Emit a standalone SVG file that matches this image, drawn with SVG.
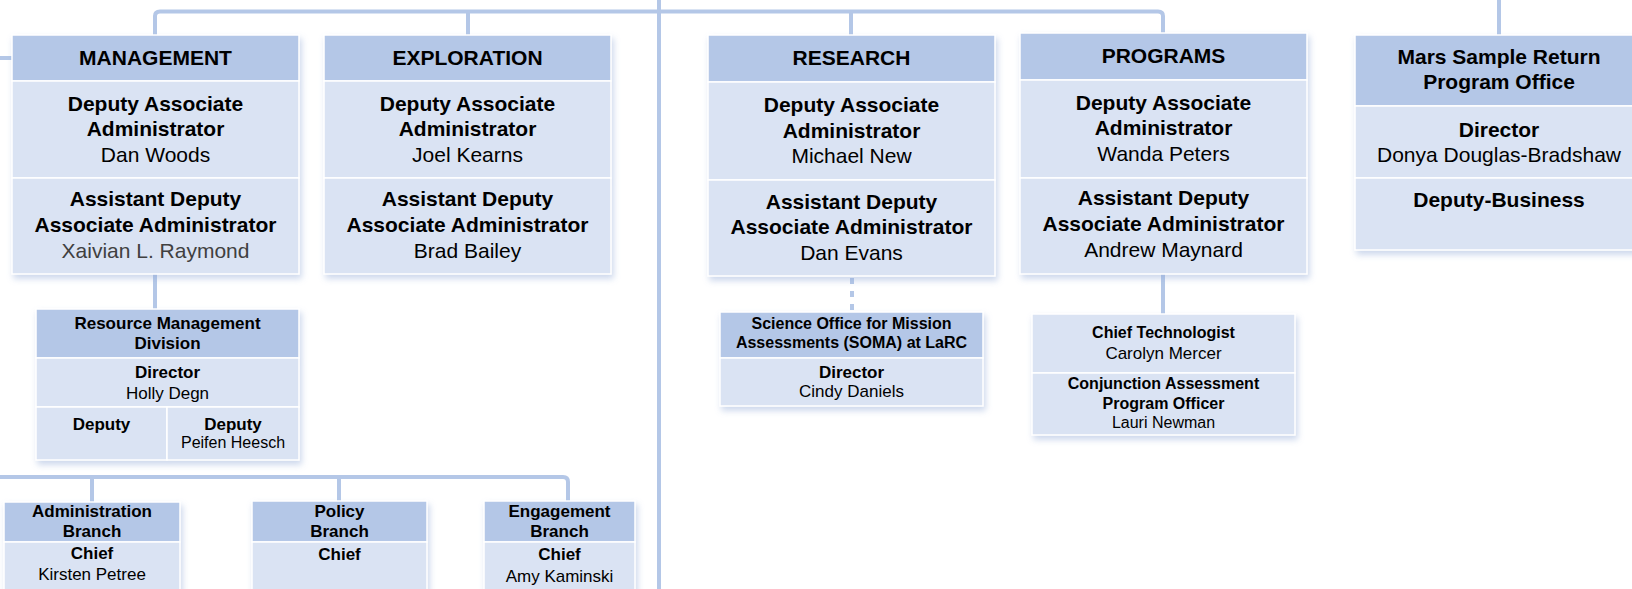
<svg xmlns="http://www.w3.org/2000/svg" width="1632" height="589" viewBox="0 0 1632 589">
<style>
.hd{fill:#b4c7e7;stroke:#ffffff;stroke-width:1.5}
.sc{fill:#dae3f3;stroke:#ffffff;stroke-width:1.5}
.ln{fill:none;stroke:#b4c7e7;stroke-width:4}
.dash{fill:none;stroke:#b4c7e7;stroke-width:4;stroke-dasharray:6 7}
text{font-family:"Liberation Sans",Arial,sans-serif;text-anchor:middle;fill:#000}
.b21{font-size:21px;font-weight:bold}
.r21{font-size:21px}
.b17{font-size:17px;font-weight:bold}
.r17{font-size:17px}
.b16{font-size:16px;font-weight:bold}
.r16{font-size:16px}
.gray{fill:#404040}
</style>
<defs>
<filter id="sh" x="-10%" y="-10%" width="125%" height="130%">
<feDropShadow dx="2" dy="4" stdDeviation="3" flood-color="#8fa8d6" flood-opacity="0.45"/>
</filter>
</defs>
<rect width="1632" height="589" fill="#ffffff"/>
<g id="connectors">
<path class="ln" d="M659,0 V589"/>
<path class="ln" d="M155,35 V16 Q155,11.5 160,11.5 H1158 Q1163,11.5 1163,16 V33"/>
<path class="ln" d="M468,11.5 V35"/>
<path class="ln" d="M851,11.5 V35"/>
<path class="ln" d="M1499,0 V35"/>
<path class="ln" d="M0,58 H12"/>
<path class="ln" d="M155,274 V309"/>
<path class="dash" d="M852,278 V311"/>
<path class="ln" d="M1163,274 V314"/>
<path class="ln" d="M0,477 H563 Q568,477 568,482 V501"/>
<path class="ln" d="M92,477 V502"/>
<path class="ln" d="M339,477 V501"/>
</g>
<g id="management">
<g filter="url(#sh)"><rect class="hd" x="12" y="35" width="287" height="46"/><rect class="sc" x="12" y="81" width="287" height="97"/><rect class="sc" x="12" y="178" width="287" height="96"/></g>
<text class="b21" x="155.5" y="65">MANAGEMENT</text>
<text class="b21" x="155.5" y="111">Deputy Associate</text>
<text class="b21" x="155.5" y="136">Administrator</text>
<text class="r21" x="155.5" y="162">Dan Woods</text>
<text class="b21" x="155.5" y="206">Assistant Deputy</text>
<text class="b21" x="155.5" y="232">Associate Administrator</text>
<text class="r21 gray" x="155.5" y="258">Xaivian L. Raymond</text>
</g>
<g id="exploration">
<g filter="url(#sh)"><rect class="hd" x="324" y="35" width="287" height="46"/><rect class="sc" x="324" y="81" width="287" height="97"/><rect class="sc" x="324" y="178" width="287" height="96"/></g>
<text class="b21" x="467.5" y="65">EXPLORATION</text>
<text class="b21" x="467.5" y="111">Deputy Associate</text>
<text class="b21" x="467.5" y="136">Administrator</text>
<text class="r21" x="467.5" y="162">Joel Kearns</text>
<text class="b21" x="467.5" y="206">Assistant Deputy</text>
<text class="b21" x="467.5" y="232">Associate Administrator</text>
<text class="r21" x="467.5" y="258">Brad Bailey</text>
</g>
<g id="research">
<g filter="url(#sh)"><rect class="hd" x="708" y="35" width="287" height="47"/><rect class="sc" x="708" y="82" width="287" height="98"/><rect class="sc" x="708" y="180" width="287" height="96"/></g>
<text class="b21" x="851.5" y="65">RESEARCH</text>
<text class="b21" x="851.5" y="112">Deputy Associate</text>
<text class="b21" x="851.5" y="138">Administrator</text>
<text class="r21" x="851.5" y="163">Michael New</text>
<text class="b21" x="851.5" y="209">Assistant Deputy</text>
<text class="b21" x="851.5" y="234">Associate Administrator</text>
<text class="r21" x="851.5" y="260">Dan Evans</text>
</g>
<g id="programs">
<g filter="url(#sh)"><rect class="hd" x="1020" y="33" width="287" height="47"/><rect class="sc" x="1020" y="80" width="287" height="98"/><rect class="sc" x="1020" y="178" width="287" height="96"/></g>
<text class="b21" x="1163.5" y="63">PROGRAMS</text>
<text class="b21" x="1163.5" y="110">Deputy Associate</text>
<text class="b21" x="1163.5" y="135">Administrator</text>
<text class="r21" x="1163.5" y="161">Wanda Peters</text>
<text class="b21" x="1163.5" y="205">Assistant Deputy</text>
<text class="b21" x="1163.5" y="231">Associate Administrator</text>
<text class="r21" x="1163.5" y="257">Andrew Maynard</text>
</g>
<g id="mars">
<g filter="url(#sh)"><rect class="hd" x="1355" y="35" width="288" height="71"/><rect class="sc" x="1355" y="106" width="288" height="72"/><rect class="sc" x="1355" y="178" width="288" height="72"/></g>
<text class="b21" x="1499" y="64">Mars Sample Return</text>
<text class="b21" x="1499" y="89">Program Office</text>
<text class="b21" x="1499" y="137">Director</text>
<text class="r21" x="1499" y="162">Donya Douglas-Bradshaw</text>
<text class="b21" x="1499" y="207">Deputy-Business</text>
</g>
<g id="rmd">
<g filter="url(#sh)"><rect class="hd" x="36" y="309" width="263" height="49"/><rect class="sc" x="36" y="358" width="263" height="49"/><rect class="sc" x="36" y="407" width="131" height="53"/><rect class="sc" x="167" y="407" width="132" height="53"/></g>
<text class="b17" x="167.5" y="329">Resource Management</text>
<text class="b17" x="167.5" y="349">Division</text>
<text class="b17" x="167.5" y="378">Director</text>
<text class="r17" x="167.5" y="399">Holly Degn</text>
<text class="b17" x="101.5" y="430">Deputy</text>
<text class="b17" x="233" y="430">Deputy</text>
<text class="r16" x="233" y="448">Peifen Heesch</text>
</g>
<g id="soma">
<g filter="url(#sh)"><rect class="hd" x="720" y="312" width="263" height="46"/><rect class="sc" x="720" y="358" width="263" height="48"/></g>
<text class="b16" x="851.5" y="329">Science Office for Mission</text>
<text class="b16" x="851.5" y="348">Assessments (SOMA) at LaRC</text>
<text class="b17" x="851.5" y="378">Director</text>
<text class="r17" x="851.5" y="397">Cindy Daniels</text>
</g>
<g id="chief-technologist">
<g filter="url(#sh)"><rect class="sc" x="1032" y="314" width="263" height="59"/><rect class="sc" x="1032" y="373" width="263" height="62"/></g>
<text class="b16" x="1163.5" y="338">Chief Technologist</text>
<text class="r17" x="1163.5" y="359">Carolyn Mercer</text>
<text class="b16" x="1163.5" y="389">Conjunction Assessment</text>
<text class="b16" x="1163.5" y="409">Program Officer</text>
<text class="r16" x="1163.5" y="428">Lauri Newman</text>
</g>
<g id="admin-branch">
<g filter="url(#sh)"><rect class="hd" x="4" y="502" width="176" height="40"/><rect class="sc" x="4" y="542" width="176" height="60"/></g>
<text class="b17" x="92" y="517">Administration</text>
<text class="b17" x="92" y="537">Branch</text>
<text class="b17" x="92" y="559">Chief</text>
<text class="r17" x="92" y="580">Kirsten Petree</text>
</g>
<g id="policy-branch">
<g filter="url(#sh)"><rect class="hd" x="252" y="501" width="175" height="41"/><rect class="sc" x="252" y="542" width="175" height="60"/></g>
<text class="b17" x="339.5" y="517">Policy</text>
<text class="b17" x="339.5" y="537">Branch</text>
<text class="b17" x="339.5" y="560">Chief</text>
</g>
<g id="engagement-branch">
<g filter="url(#sh)"><rect class="hd" x="484" y="501" width="151" height="41"/><rect class="sc" x="484" y="542" width="151" height="60"/></g>
<text class="b17" x="559.5" y="517">Engagement</text>
<text class="b17" x="559.5" y="537">Branch</text>
<text class="b17" x="559.5" y="560">Chief</text>
<text class="r17" x="559.5" y="582">Amy Kaminski</text>
</g>
</svg>
